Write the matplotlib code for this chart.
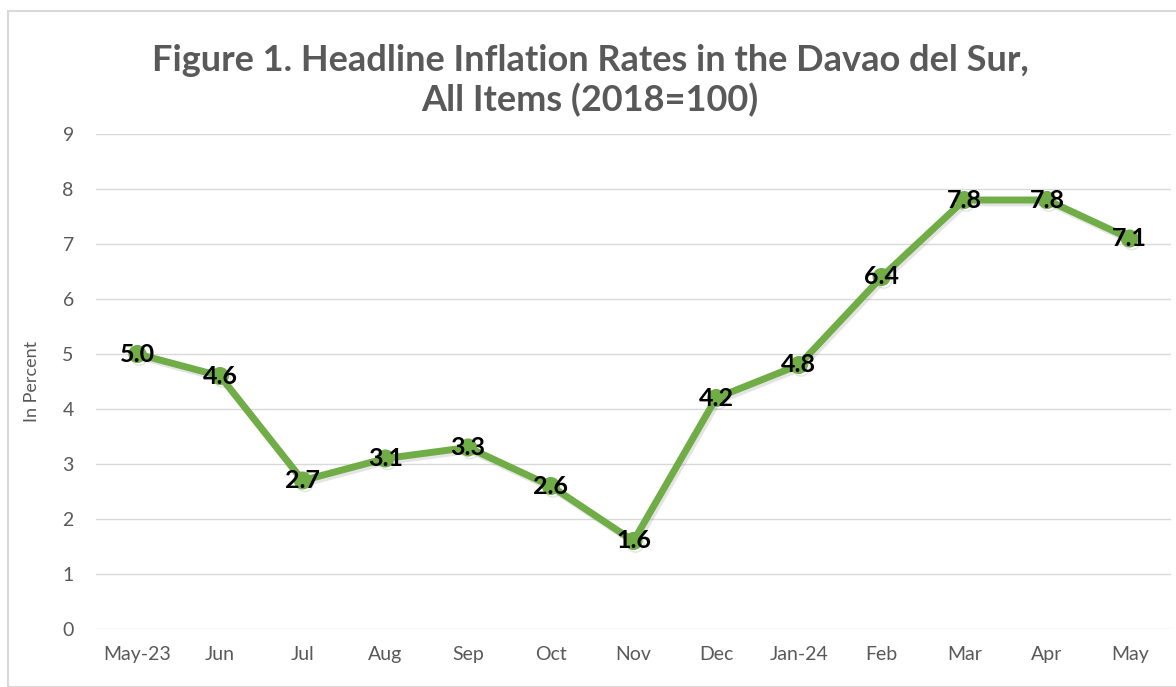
import matplotlib
matplotlib.use("Agg")
import matplotlib.pyplot as plt
from matplotlib.patches import Rectangle
import matplotlib.patheffects as pe

months = ["May-23", "Jun", "Jul", "Aug", "Sep", "Oct", "Nov", "Dec", "Jan-24", "Feb", "Mar", "Apr", "May"]
inflation = [5.0, 4.6, 2.7, 3.1, 3.3, 2.6, 1.6, 4.2, 4.8, 6.4, 7.8, 7.8, 7.1]
yticks = list(range(0, 10))

plt.rcParams['font.family'] = ['Lato', 'DejaVu Sans']

W, H = 1176, 687
fig = plt.figure(figsize=(W / 100, H / 100), dpi=100)
fig.patches.append(Rectangle((8 / W, 0), 1.2, 1 - 11 / H, transform=fig.transFigure,
                             fill=False, edgecolor="#d9d9d9", linewidth=1.5))

left, right = 96 / W, 1171 / W
bottom, top = 1 - 629 / H, 1 - 134 / H
ax = fig.add_axes([left, bottom, right - left, top - bottom])

x = list(range(len(months)))
green = "#70AD47"
shadow = [pe.SimpleLineShadow(offset=(1.5, -2), shadow_color="#7a7a7a", alpha=0.2),
          pe.Normal()]
ax.plot(x, inflation, color=green, linewidth=5, marker="o", markersize=12,
        markerfacecolor=green, markeredgecolor=green, solid_joinstyle="round",
        path_effects=shadow, zorder=3)

for xi, v in zip(x, inflation):
    ax.text(xi, v, f"{v:.1f}", ha="center", va="center", fontsize=18,
            fontweight="bold", color="black", zorder=5)

ax.set_xlim(-0.5, len(months) - 0.5)
ax.set_ylim(0, 9)
ax.set_yticks(yticks)
ax.set_xticks(x)
ax.set_xticklabels(months)
ax.grid(axis="y", color="#d9d9d9", linewidth=1)
ax.set_axisbelow(True)
for s in ax.spines.values():
    s.set_visible(False)
ax.tick_params(axis="both", length=0, colors="#595959", labelsize=14)
ax.tick_params(axis="x", pad=12)
ax.tick_params(axis="y", pad=16)
ax.set_ylabel("In Percent", fontsize=13, color="#595959", labelpad=16)

fig.text(590 / W, 1 - 81 / H,
         "Figure 1. Headline Inflation Rates in the Davao del Sur,\nAll Items (2018=100)",
         ha="center", va="center", fontsize=26, fontweight="bold", color="#595959",
         linespacing=1.2)

fig.savefig("out.png", dpi=100)
